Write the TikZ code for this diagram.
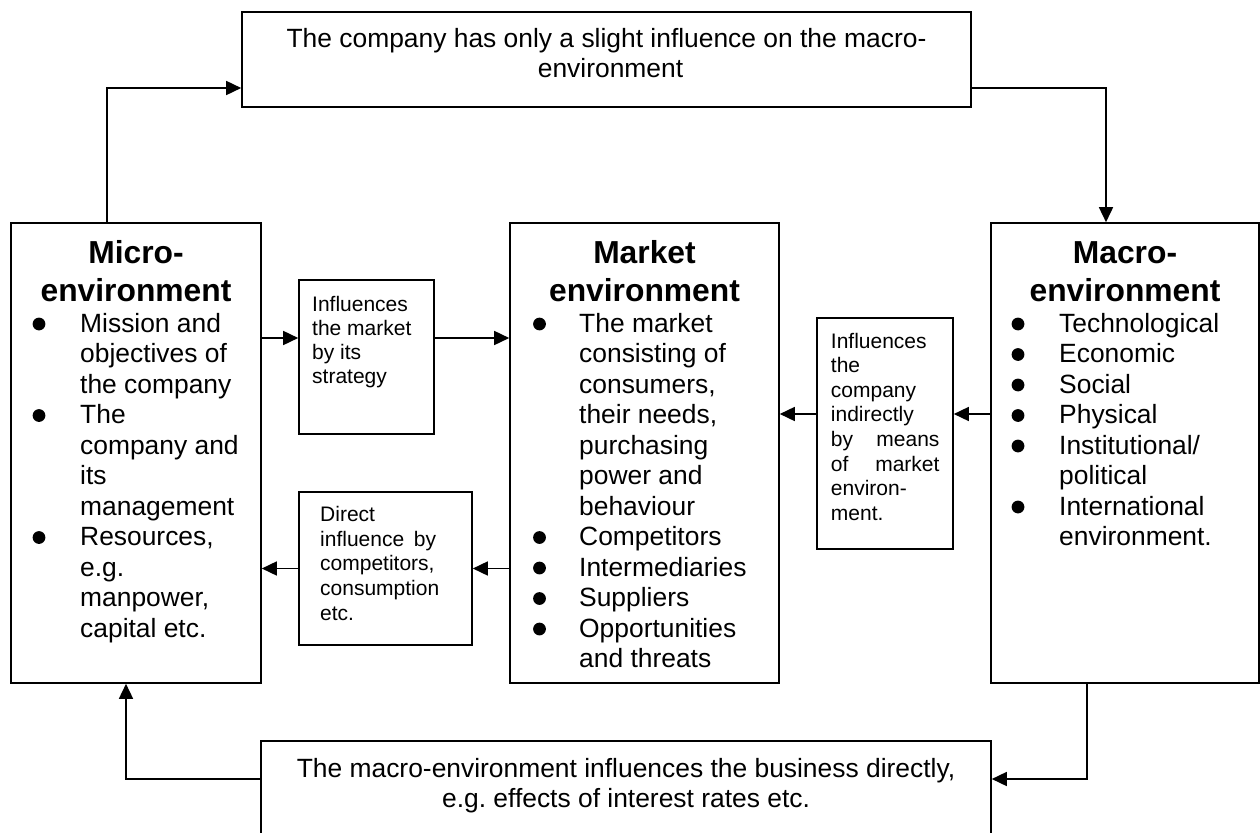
\documentclass[tikz,border=0pt]{standalone}
\usepackage{fontspec}
\setmainfont{Liberation Sans}
\usetikzlibrary{arrows.meta}
\frenchspacing
\newcommand\bodyfont{\fontsize{26.4}{30.5}\selectfont\frenchspacing}
\newcommand\headfont{\fontsize{31.8}{38}\selectfont\bfseries}
\newcommand\smallfontA{\fontsize{21}{24.1}\selectfont\frenchspacing}
\newcommand\smallfontB{\fontsize{21}{24.6}\selectfont\frenchspacing}
\begin{document}
\begin{tikzpicture}[x=1pt,y=-1pt,
  boxst/.style={draw, line width=1.6pt, inner sep=0pt},
  arrst/.style={line width=1.6pt, -{Triangle[length=15pt,width=14pt]}},
  txtst/.style={inner sep=0pt},
  bulst/.style={fill=black}]
\path[use as bounding box] (0,0) rectangle (1260,832);
\clip (0,0) rectangle (1260,832);

% boxes
\node[boxst, minimum width=729pt, minimum height=95pt] (top) at (606.5,59.5) {};
\node[boxst, minimum width=250pt, minimum height=460pt] (micro) at (136,453) {};
\node[boxst, minimum width=269pt, minimum height=460pt] (market) at (644.5,453) {};
\node[boxst, minimum width=268pt, minimum height=460pt] (macro) at (1125,453) {};
\node[boxst, minimum width=135pt, minimum height=154pt] (s1) at (366.5,357) {};
\node[boxst, minimum width=173pt, minimum height=153pt] (s2) at (385.5,568.5) {};
\node[boxst, minimum width=136pt, minimum height=231pt] (s3) at (885,433.5) {};
\node[boxst, minimum width=730pt, minimum height=140pt] (bottom) at (626,811) {};

% texts
\node[txtst, anchor=base] (toptext) at (606.5,47.3) {\bodyfont\begin{tabular}[t]{@{}c@{}}The company has only a slight influence on the macro-\\\hspace*{8pt}environment\end{tabular}};
\node[txtst, anchor=base] (bottomtext) at (626,777) {\bodyfont\begin{tabular}[t]{@{}c@{}}The macro-environment influences the business directly,\\e.g. effects of interest rates etc.\end{tabular}};

\node[txtst, anchor=base] (microhead) at (136,263) {\headfont\begin{tabular}[t]{@{}c@{}}Micro-\\environment\end{tabular}};
\node[txtst, anchor=base] (markethead) at (644.5,263) {\headfont\begin{tabular}[t]{@{}c@{}}Market\\environment\end{tabular}};
\node[txtst, anchor=base] (macrohead) at (1125,263) {\headfont\begin{tabular}[t]{@{}c@{}}Macro-\\environment\end{tabular}};

\node[txtst, anchor=base west] (microlist) at (80,332) {\bodyfont\begin{tabular}[t]{@{}l@{}}Mission and\\objectives of\\the company\\The\\company and\\its\\management\\Resources,\\e.g.\\manpower,\\capital etc.\end{tabular}};
\node[txtst, anchor=base west] (marketlist) at (579,332) {\bodyfont\begin{tabular}[t]{@{}l@{}}The market\\consisting of\\consumers,\\their needs,\\purchasing\\power and\\behaviour\\Competitors\\Intermediaries\\Suppliers\\Opportunities\\and threats\end{tabular}};
\node[txtst, anchor=base west] (macrolist) at (1059,332) {\bodyfont\begin{tabular}[t]{@{}l@{}}Technological\\Economic\\Social\\Physical\\Institutional/\\political\\International\\environment.\end{tabular}};

\node[txtst, anchor=base west] (s1text) at (312,311) {\smallfontA\begin{tabular}[t]{@{}l@{}}Influences\\the market\\by its\\strategy\end{tabular}};
\node[txtst, anchor=base west] (s2text) at (320,521.7) {\smallfontB\begin{tabular}[t]{@{}l@{}}Direct\\\hbox to 116pt{influence\hfill by}\\competitors,\\consumption\\etc.\end{tabular}};
\node[txtst, anchor=base west] (s3text) at (830.7,348) {\smallfontB\begin{tabular}[t]{@{}l@{}}Influences\\the\\company\\indirectly\\\hbox to 108.6pt{by\hfill means}\\\hbox to 108.6pt{of\hfill market}\\environ-\\ment.\end{tabular}};

% bullets
\foreach \yy in {324,415.5,537.5} \fill[bulst] (39,\yy) circle (6.4pt);
\foreach \yy in {324,537.5,568,598.5,629} \fill[bulst] (539.5,\yy) circle (6.4pt);
\foreach \yy in {324,354.5,385,415.5,446,507} \fill[bulst] (1018,\yy) circle (6.4pt);

% connectors
\draw[arrst] ([xshift=-29pt]micro.north) |- ([yshift=-28.5pt]top.west);
\draw[arrst] ([yshift=-28.5pt]top.east) -| ([xshift=-19pt]macro.north);
\draw[arrst] ([yshift=19pt]s1.west -| micro.east) -- ([yshift=19pt]s1.west);
\draw[arrst] ([yshift=19pt]s1.east) -- ([yshift=19pt]s1.east -| market.west);
\draw[arrst] (s2.east -| market.west) -- (s2.east);
\draw[arrst] (s2.west) -- (s2.west -| micro.east);
\draw[arrst] ([yshift=19.5pt]s3.east -| macro.west) -- ([yshift=19.5pt]s3.east);
\draw[arrst] ([yshift=19.5pt]s3.west) -- ([yshift=19.5pt]s3.west -| market.east);
\draw[arrst] ([xshift=-38pt]macro.south) |- ([yshift=32pt]bottom.east);
\draw[arrst] ([yshift=32pt]bottom.west) -| ([xshift=-10pt]micro.south);
\end{tikzpicture}
\end{document}
